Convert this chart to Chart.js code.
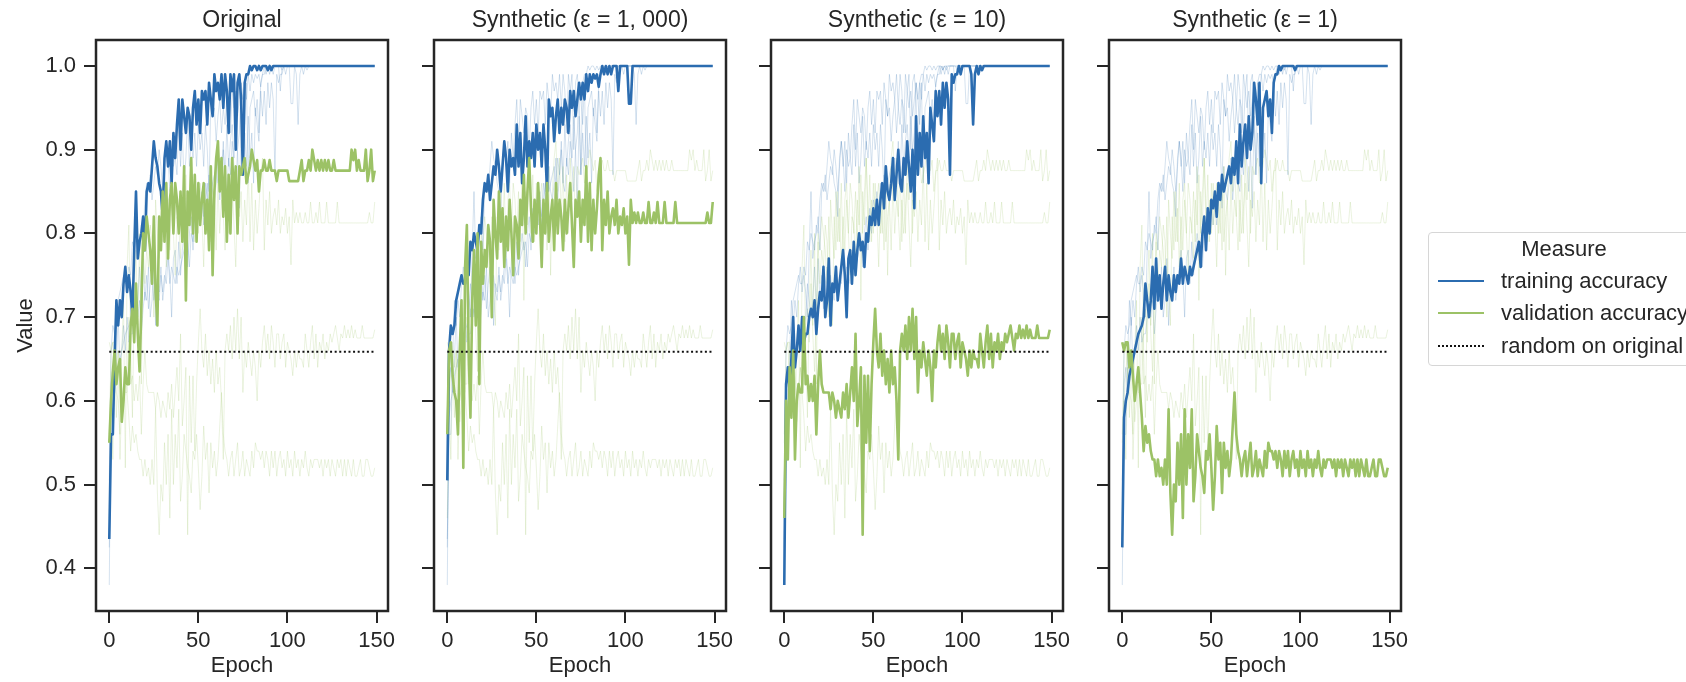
<!DOCTYPE html>
<html>
<head>
<meta charset="utf-8">
<script src="https://cdn.jsdelivr.net/npm/chart.js@4.4.0/dist/chart.umd.min.js"></script>
<style>
  body { margin: 0; background: #fff; overflow: hidden; }
  #wrap { position: relative; width: 1686px; height: 682px; overflow: hidden; background: #fff;
          font-family: "Liberation Sans", Arial, sans-serif; color: #262626; }
  #wrap canvas { position: absolute; top: 0; }
  #legend { position: absolute; left: 1428px; top: 232px; width: 290px; height: 132px;
            border: 1px solid #d6d6d6; border-radius: 4px; background: #fff; font-size: 22px; }
  #legend .row { position: absolute; left: 0; height: 26px; line-height: 26px; white-space: nowrap; }
  #legend .ttl { width: 270px; text-align: center; }
  #legend .smp { position: absolute; left: 9px; top: 12px; width: 46px; height: 0; }
  #legend .txt { position: absolute; left: 72px; top: 0; }
</style>
</head>
<body>
<div id="wrap">
  <canvas id="c0" width="418" height="682"></canvas>
  <canvas id="c1" width="418" height="682"></canvas>
  <canvas id="c2" width="418" height="682"></canvas>
  <canvas id="c3" width="418" height="682"></canvas>
  <div id="legend">
    <div class="row ttl" style="top:3px">Measure</div>
    <div class="row" style="top:35px"><span class="smp" style="border-top:2px solid #2b6cb0"></span><span class="txt">training accuracy</span></div>
    <div class="row" style="top:67px"><span class="smp" style="border-top:2px solid #9cc266"></span><span class="txt">validation accuracy</span></div>
    <div class="row" style="top:100px"><span class="smp" style="border-top:2px dotted #111"></span><span class="txt">random on original</span></div>
  </div>
</div>
<script>
// epochs 0..149
const epochs = Array.from({ length: 150 }, (_, i) => i);
const xTicks = [0, 50, 100, 150];
const yTicks = [0.4, 0.5, 0.6, 0.7, 0.8, 0.9, 1.0];
const randomOnOriginal = 0.6587;

const titles = ['Original', 'Synthetic (ε = 1, 000)', 'Synthetic (ε = 10)', 'Synthetic (ε = 1)'];

const trainOrig = [
  0.435,0.56,0.56,0.65,0.72,0.69,0.72,0.70,0.74,0.76,
  0.73,0.75,0.73,0.70,0.78,0.85,0.77,0.79,0.80,0.82,
  0.78,0.85,0.86,0.85,0.88,0.91,0.89,0.88,0.86,0.85,
  0.82,0.89,0.91,0.88,0.91,0.86,0.92,0.89,0.93,0.96,
  0.90,0.96,0.94,0.92,0.95,0.94,0.90,0.95,0.97,0.93,
  0.96,0.92,0.97,0.96,0.97,0.93,0.98,0.96,0.94,0.99,
  0.97,0.98,0.96,0.99,0.95,0.99,0.97,0.92,0.99,0.97,
  0.99,0.90,0.98,0.99,0.96,0.87,0.98,0.99,0.99,1,
  0.995,1,1,0.995,1,0.995,1,1,1,0.995,
  1,0.995,1,1,1,1,1,1,1,1,
  1,1,1,1,1,1,1,1,1,1,
  1,1,1,1,1,1,1,1,1,1,
  1,1,1,1,1,1,1,1,1,1,
  1,1,1,1,1,1,1,1,1,1,
  1,1,1,1,1,1,1,1,1,1
];
const valOrig = [
  0.55,0.60,0.635,0.66,0.62,0.64,0.65,0.575,0.60,0.64,
  0.62,0.62,0.69,0.71,0.67,0.74,0.68,0.635,0.71,0.80,
  0.78,0.82,0.80,0.78,0.74,0.82,0.73,0.69,0.82,0.78,
  0.85,0.79,0.86,0.77,0.84,0.86,0.80,0.86,0.84,0.80,
  0.85,0.79,0.88,0.72,0.85,0.81,0.89,0.80,0.87,0.79,
  0.86,0.81,0.84,0.86,0.80,0.84,0.78,0.88,0.75,0.85,
  0.89,0.91,0.85,0.89,0.82,0.88,0.79,0.87,0.80,0.89,
  0.84,0.88,0.80,0.88,0.87,0.88,0.89,0.86,0.87,0.88,
  0.90,0.8875,0.875,0.8875,0.85,0.875,0.875,0.8875,0.875,0.875,
  0.8875,0.875,0.875,0.875,0.8625,0.875,0.875,0.875,0.875,0.875,
  0.875,0.8625,0.8625,0.8625,0.8625,0.8625,0.8625,0.875,0.8875,0.8625,
  0.875,0.875,0.8875,0.875,0.90,0.8875,0.875,0.8875,0.875,0.8875,
  0.875,0.8875,0.875,0.8875,0.875,0.875,0.8875,0.875,0.875,0.875,
  0.875,0.875,0.875,0.875,0.875,0.875,0.90,0.8875,0.90,0.875,
  0.8875,0.875,0.875,0.875,0.90,0.8625,0.875,0.90,0.8625,0.875
];
const train1000 = [
  0.505,0.66,0.69,0.68,0.69,0.72,0.73,0.74,0.75,0.74,
  0.74,0.76,0.75,0.79,0.78,0.80,0.79,0.78,0.81,0.80,
  0.84,0.86,0.85,0.87,0.84,0.86,0.88,0.87,0.90,0.88,
  0.85,0.88,0.91,0.89,0.85,0.90,0.88,0.89,0.87,0.93,
  0.88,0.92,0.86,0.89,0.94,0.88,0.91,0.89,0.92,0.88,
  0.93,0.90,0.92,0.88,0.93,0.90,0.85,0.96,0.94,0.95,
  0.91,0.94,0.96,0.92,0.95,0.93,0.96,0.95,0.92,0.97,
  0.95,0.97,0.94,0.96,0.98,0.96,0.98,0.96,0.99,0.97,
  0.99,0.98,0.99,0.985,0.99,0.975,0.99,1,0.99,1,
  0.99,1,0.99,1,1,1,0.97,1,1,1,
  1,1,0.955,0.955,1,1,1,1,1,1,
  1,1,1,1,1,1,1,1,1,1,
  1,1,1,1,1,1,1,1,1,1,
  1,1,1,1,1,1,1,1,1,1,
  1,1,1,1,1,1,1,1,1,1
];
const val1000 = [
  0.56,0.66,0.67,0.63,0.61,0.60,0.56,0.66,0.72,0.52,
  0.76,0.81,0.66,0.58,0.72,0.78,0.69,0.80,0.62,0.79,
  0.74,0.78,0.76,0.81,0.79,0.70,0.84,0.80,0.77,0.85,
  0.79,0.83,0.76,0.82,0.78,0.84,0.80,0.75,0.82,0.81,
  0.77,0.84,0.81,0.87,0.80,0.85,0.89,0.83,0.79,0.84,
  0.80,0.86,0.82,0.76,0.84,0.80,0.86,0.79,0.82,0.84,
  0.78,0.86,0.80,0.84,0.82,0.78,0.84,0.80,0.83,0.86,
  0.81,0.76,0.84,0.82,0.85,0.79,0.84,0.81,0.88,0.79,
  0.86,0.78,0.84,0.80,0.83,0.87,0.89,0.78,0.84,0.81,
  0.85,0.80,0.82,0.83,0.81,0.84,0.80,0.82,0.81,0.83,
  0.80,0.82,0.7625,0.84,0.8125,0.825,0.8125,0.825,0.8125,0.8125,
  0.825,0.8125,0.8125,0.8375,0.8125,0.8125,0.825,0.8125,0.8375,0.8125,
  0.8125,0.8125,0.8375,0.8125,0.8125,0.8125,0.8125,0.8125,0.8375,0.8125,
  0.8125,0.8125,0.8125,0.8125,0.8125,0.8125,0.8125,0.8125,0.8125,0.8125,
  0.8125,0.8125,0.8125,0.8125,0.8125,0.8125,0.825,0.8125,0.8125,0.8375
];
const train10 = [
  0.38,0.62,0.64,0.61,0.65,0.70,0.64,0.66,0.69,0.66,
  0.70,0.67,0.68,0.68,0.70,0.71,0.70,0.72,0.68,0.71,
  0.73,0.72,0.76,0.70,0.72,0.77,0.69,0.74,0.73,0.76,
  0.72,0.74,0.76,0.78,0.75,0.70,0.77,0.78,0.74,0.79,
  0.75,0.78,0.80,0.78,0.79,0.76,0.80,0.79,0.82,0.81,
  0.83,0.81,0.84,0.81,0.84,0.86,0.83,0.88,0.85,0.84,
  0.86,0.89,0.84,0.87,0.90,0.86,0.85,0.89,0.87,0.91,
  0.88,0.85,0.90,0.83,0.94,0.87,0.92,0.88,0.94,0.89,
  0.92,0.86,0.95,0.93,0.91,0.97,0.94,0.97,0.93,0.98,
  0.95,0.98,0.96,0.87,0.99,0.98,0.99,0.99,1,0.99,
  1,1,1,1,1,0.99,0.93,0.99,1,0.99,
  1,0.995,1,1,1,1,1,1,1,1,
  1,1,1,1,1,1,1,1,1,1,
  1,1,1,1,1,1,1,1,1,1,
  1,1,1,1,1,1,1,1,1,1
];
const val10 = [
  0.46,0.60,0.53,0.64,0.58,0.66,0.53,0.60,0.62,0.61,
  0.61,0.70,0.62,0.63,0.60,0.62,0.60,0.63,0.56,0.62,
  0.66,0.62,0.61,0.61,0.61,0.61,0.59,0.61,0.60,0.58,
  0.60,0.59,0.58,0.61,0.59,0.62,0.58,0.61,0.64,0.60,
  0.68,0.57,0.60,0.64,0.44,0.63,0.55,0.63,0.54,0.62,
  0.67,0.71,0.66,0.64,0.68,0.63,0.66,0.62,0.65,0.61,
  0.66,0.62,0.64,0.60,0.53,0.66,0.68,0.66,0.69,0.65,
  0.70,0.66,0.71,0.65,0.70,0.61,0.66,0.64,0.67,0.65,
  0.63,0.66,0.64,0.60,0.66,0.64,0.67,0.69,0.66,0.68,
  0.65,0.69,0.67,0.64,0.68,0.68,0.65,0.67,0.68,0.64,
  0.67,0.66,0.65,0.63,0.66,0.64,0.66,0.65,0.65,0.64,
  0.68,0.66,0.64,0.67,0.69,0.65,0.68,0.64,0.67,0.66,
  0.68,0.65,0.67,0.66,0.68,0.67,0.68,0.69,0.675,0.66,
  0.68,0.675,0.69,0.675,0.685,0.675,0.69,0.675,0.685,0.675,
  0.675,0.675,0.69,0.675,0.675,0.675,0.675,0.675,0.675,0.685
];
const train1 = [
  0.425,0.58,0.60,0.61,0.63,0.64,0.65,0.66,0.67,0.68,
  0.685,0.69,0.70,0.74,0.72,0.70,0.72,0.76,0.71,0.77,
  0.72,0.75,0.71,0.74,0.76,0.72,0.75,0.73,0.72,0.75,
  0.73,0.75,0.74,0.77,0.74,0.76,0.75,0.74,0.76,0.75,
  0.76,0.77,0.78,0.79,0.76,0.80,0.82,0.78,0.83,0.80,
  0.84,0.83,0.85,0.82,0.86,0.84,0.87,0.85,0.86,0.87,
  0.88,0.86,0.89,0.87,0.91,0.86,0.93,0.88,0.91,0.93,
  0.89,0.94,0.90,0.92,0.98,0.96,0.93,0.98,0.86,0.95,
  0.96,0.97,0.94,0.96,0.92,0.98,0.99,0.99,1,0.995,
  1,1,1,1,1,1,1,0.995,1,1,
  1,1,1,1,1,1,1,1,1,1,
  1,1,1,1,1,1,1,1,1,1,
  1,1,1,1,1,1,1,1,1,1,
  1,1,1,1,1,1,1,1,1,1,
  1,1,1,1,1,1,1,1,1,1
];
const val1 = [
  0.67,0.66,0.67,0.67,0.64,0.66,0.63,0.60,0.62,0.64,
  0.61,0.58,0.54,0.57,0.55,0.56,0.54,0.53,0.53,0.51,
  0.53,0.51,0.52,0.50,0.53,0.50,0.59,0.49,0.44,0.50,
  0.48,0.55,0.50,0.56,0.46,0.59,0.50,0.56,0.52,0.59,
  0.48,0.51,0.56,0.54,0.52,0.51,0.49,0.54,0.53,0.56,
  0.52,0.47,0.51,0.57,0.53,0.55,0.49,0.55,0.52,0.54,
  0.51,0.53,0.57,0.61,0.56,0.54,0.53,0.51,0.53,0.54,
  0.51,0.53,0.55,0.51,0.52,0.54,0.51,0.53,0.52,0.51,
  0.54,0.52,0.55,0.54,0.54,0.53,0.54,0.52,0.54,0.53,
  0.51,0.54,0.52,0.54,0.51,0.53,0.54,0.52,0.53,0.51,
  0.54,0.52,0.53,0.51,0.54,0.52,0.53,0.51,0.53,0.52,
  0.54,0.52,0.51,0.53,0.52,0.53,0.53,0.53,0.52,0.53,
  0.51,0.53,0.52,0.53,0.51,0.53,0.52,0.51,0.53,0.52,
  0.53,0.51,0.53,0.51,0.53,0.52,0.51,0.53,0.51,0.51,
  0.52,0.53,0.51,0.51,0.53,0.53,0.52,0.51,0.51,0.52
];

const trainSeries = [trainOrig, train1000, train10, train1];
const valSeries = [valOrig, val1000, val10, val1];

const BLUE = '#2b6cb0';
const GREEN = '#9cc266';
const BLUE_FAINT = 'rgba(43,108,176,0.2)';
const GREEN_FAINT = 'rgba(156,194,102,0.2)';
const INK = '#262626';
const FONT = { family: '"Liberation Sans", Arial, sans-serif', size: 22, weight: 'normal' };
const TITLE_FONT = { family: '"Liberation Sans", Arial, sans-serif', size: 23, weight: 'normal' };

// axes box left edges on the page; every box is 292 wide
const boxLeft = [96, 434, 771, 1109];
const Y_AXIS_W = 96;

const toXY = arr => arr.map((v, i) => ({ x: epochs[i], y: v }));

const framePlugin = {
  id: 'frame',
  afterDraw(chart) {
    const { ctx, chartArea: a } = chart;
    ctx.save();
    ctx.strokeStyle = INK;
    ctx.lineWidth = 2.5;
    ctx.strokeRect(a.left, a.top, a.right - a.left, a.bottom - a.top);
    ctx.restore();
  }
};

Chart.defaults.font.family = FONT.family;
Chart.defaults.color = INK;

for (let p = 0; p < 4; p++) {
  const canvas = document.getElementById('c' + p);
  canvas.style.left = (boxLeft[p] - Y_AXIS_W) + 'px';

  const faint = [];
  for (let k = 0; k < 4; k++) {
    faint.push({ data: toXY(trainSeries[k]), borderColor: BLUE_FAINT, borderWidth: 1 });
    faint.push({ data: toXY(valSeries[k]), borderColor: GREEN_FAINT, borderWidth: 1 });
  }

  // dataset 0 is drawn on top in Chart.js
  const datasets = [
    { label: 'random on original', data: [{ x: 0, y: randomOnOriginal }, { x: 149, y: randomOnOriginal }],
      borderColor: '#111', borderWidth: 2, borderDash: [2, 2.6] },
    { label: 'validation accuracy', data: toXY(valSeries[p]), borderColor: GREEN, borderWidth: 2.6 },
    { label: 'training accuracy', data: toXY(trainSeries[p]), borderColor: BLUE, borderWidth: 2.6 },
    ...faint
  ];

  const tickGrid = { drawOnChartArea: false, drawTicks: true, tickLength: 12, color: INK, lineWidth: 2 };

  new Chart(canvas, {
    type: 'line',
    data: { datasets },
    plugins: [framePlugin],
    options: {
      responsive: false,
      animation: false,
      events: [],
      devicePixelRatio: 1,
      layout: { padding: { left: 0, right: 30, top: 0, bottom: 0 } },
      elements: { point: { radius: 0 }, line: { tension: 0, fill: false, borderCapStyle: 'butt', borderJoinStyle: 'round' } },
      plugins: {
        legend: { display: false },
        tooltip: { enabled: false },
        title: { display: true, text: titles[p], font: TITLE_FONT, color: INK, fullSize: false,
                 padding: { top: 7, bottom: 5.4 } }
      },
      scales: {
        x: {
          type: 'linear', min: -7.45, max: 156.45,
          afterBuildTicks: s => { s.ticks = xTicks.map(v => ({ value: v })); },
          afterFit: s => { s.height = 71; },
          grid: tickGrid,
          border: { display: false },
          ticks: { font: FONT, color: INK, padding: 5, maxRotation: 0, autoSkip: false, callback: v => String(v) },
          title: { display: true, text: 'Epoch', font: FONT, color: INK, padding: { top: 0, bottom: 3 } }
        },
        y: {
          type: 'linear', min: 0.349, max: 1.031,
          afterBuildTicks: s => { s.ticks = yTicks.map(v => ({ value: v })); },
          afterFit: s => { s.width = Y_AXIS_W; },
          grid: tickGrid,
          border: { display: false },
          ticks: { font: FONT, color: INK, padding: 8, autoSkip: false,
                   callback: v => (p === 0 ? v.toFixed(1) : '') },
          title: { display: p === 0, text: 'Value', font: FONT, color: INK, padding: { top: 13, bottom: 0 } }
        }
      }
    }
  });
}
</script>
</body>
</html>
